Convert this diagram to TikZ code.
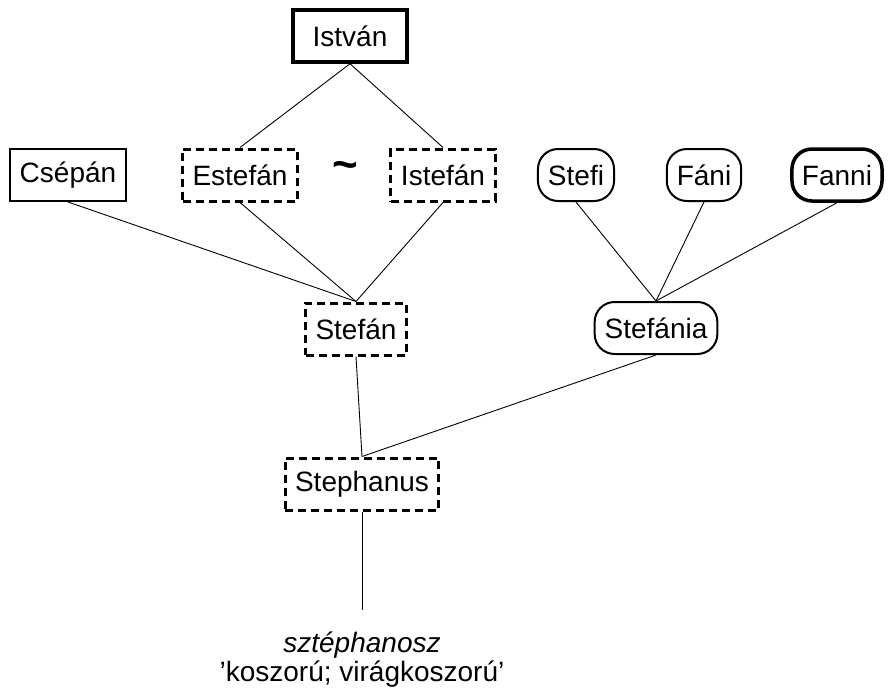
\documentclass[tikz,border=0pt]{standalone}
\usepackage{fontspec}
\setmainfont{Liberation Sans}
\usetikzlibrary{positioning}

\begin{document}
\begin{tikzpicture} [
          x=1pt, y=-1pt,
          every node/.style = {font=\fontsize{28}{28}\selectfont, inner xsep=10pt, inner ysep=0pt, minimum height=52pt},
          plain/.style = {draw, line width=2pt},
          thick box/.style = {draw, line width=3.5pt},
          dashbox/.style = {draw, line width=3pt, dash pattern=on 8pt off 5pt},
          roundbox/.style = {draw, line width=2pt, rounded corners=20pt},
          thick round/.style = {draw, line width=3.5pt, rounded corners=20pt},
          link/.style = {line width=0.9pt}
          ]
          \useasboundingbox (0,0) rectangle (889,693);
          \node[thick box, minimum width=114pt] (istvan) at (350,36) {István};
          \node[plain] (csepan) at (68,175) {Csépán};
          \node[dashbox] (estefan) at (240,175) {Estefán};
          \node[font=\fontsize{44}{44}\selectfont\bfseries] (tilde) at (345,170) {\textasciitilde};
          \node[dashbox] (istefan) at (443,175) {Istefán};
          \node[roundbox] (stefi) at (576,175) {Stefi};
          \node[roundbox] (fani) at (704,175) {Fáni};
          \node[thick round] (fanni) at (837,175) {Fanni};
          \node[dashbox] (stefan) at (356,329) {Stefán};
          \node[roundbox] (stefania) at (656,328) {Stefánia};
          \node[dashbox] (stephanus) at (362,484) {Stephanus};
          \coordinate (root) at (362,610);
          \node[minimum height=0pt, align=center, anchor=north] (etymon) at (362,632)
            {\itshape sztéphanosz\\[1pt]'koszorú; virágkoszorú'};

          \draw[link] (istvan.south) -- (estefan.north);
          \draw[link] (istvan.south) -- (istefan.north);
          \draw[link] (csepan.south) -- (stefan.north);
          \draw[link] (estefan.south) -- (stefan.north);
          \draw[link] (istefan.south) -- (stefan.north);
          \draw[link] (stefi.south) -- (stefania.north);
          \draw[link] (fani.south) -- (stefania.north);
          \draw[link] (fanni.south) -- (stefania.north);
          \draw[link] (stefan.south) -- (stephanus.north);
          \draw[link] (stefania.south) -- (stephanus.north);
          \draw[link] (stephanus.south) -- (root);
        \end{tikzpicture}
\end{document}
